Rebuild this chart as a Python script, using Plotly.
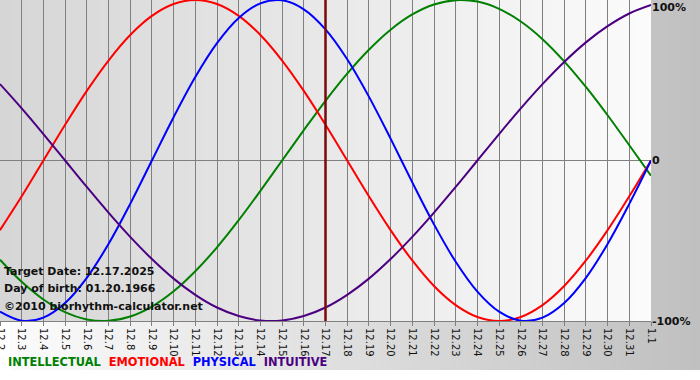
import plotly.graph_objects as go

# ---------------- data ----------------
labels = ['12.2', '12.3', '12.4', '12.5', '12.6', '12.7', '12.8', '12.9', '12.10',
          '12.11', '12.12', '12.13', '12.14', '12.15', '12.16', '12.17', '12.18',
          '12.19', '12.20', '12.21', '12.22', '12.23', '12.24', '12.25', '12.26',
          '12.27', '12.28', '12.29', '12.30', '12.31', '1.1']

intellectual = [-0.618, -0.756, -0.866, -0.945, -0.990, -0.999, -0.972, -0.910, -0.815, -0.690,
                -0.541, -0.372, -0.189, 0.000, 0.189, 0.372, 0.541, 0.690, 0.815, 0.910,
                0.972, 0.999, 0.990, 0.945, 0.866, 0.756, 0.618, 0.458, 0.282, 0.095, -0.095]
emotional = [-0.434, -0.223, 0.000, 0.223, 0.434, 0.623, 0.782, 0.901, 0.975, 1.000,
             0.975, 0.901, 0.782, 0.623, 0.434, 0.223, 0.000, -0.223, -0.434, -0.623,
             -0.782, -0.901, -0.975, -1.000, -0.975, -0.901, -0.782, -0.623, -0.434, -0.223, 0.000]
physical = [-0.942, -0.998, -0.979, -0.888, -0.731, -0.520, -0.270, 0.000, 0.270, 0.520,
            0.731, 0.888, 0.979, 0.998, 0.942, 0.817, 0.631, 0.398, 0.136, -0.136,
            -0.398, -0.631, -0.817, -0.942, -0.998, -0.979, -0.888, -0.731, -0.520, -0.270, 0.000]
intuitive = [0.476, 0.325, 0.165, 0.000, -0.165, -0.325, -0.476, -0.614, -0.736, -0.837,
             -0.916, -0.969, -0.997, -0.997, -0.969, -0.916, -0.837, -0.736, -0.614, -0.476,
             -0.325, -0.165, 0.000, 0.165, 0.325, 0.476, 0.614, 0.736, 0.837, 0.916, 0.969]

y_tickvals = [-1, 0, 1]
y_ticktext = ['-100%', '0', '100%']

target_label = '12.17'
info_lines = ['Target Date: 12.17.2025', 'Day of birth: 01.20.1966',
              '\u00a92010 biorhythm-calculator.net']

series = [('INTELLECTUAL', intellectual, '#008000'),
          ('EMOTIONAL', emotional, '#ff0000'),
          ('PHYSICAL', physical, '#0000ff'),
          ('INTUITIVE', intuitive, '#4b0082')]

# ---------------- layout geometry (pixels) ----------------
W, H = 700, 380
ML, MR, MT, MB = 0, 49, 0, 59
PW, PH = W - ML - MR, H - MT - MB
BOTTOM_PANEL = 370  # pixel row where the grey backdrop ends

xs = list(range(len(labels)))

fig = go.Figure()
for name, vals, col in series:
    fig.add_trace(go.Scatter(x=xs, y=vals, mode='lines', name=name,
                             line=dict(color=col, width=2, shape='spline', smoothing=1.0),
                             showlegend=False, hoverinfo='skip'))

fig.add_vline(x=labels.index(target_label), line=dict(color='#7a0a0a', width=2))


def lerp(c0, c1, t):
    return tuple(round(a + (b - a) * t) for a, b in zip(c0, c1))


shapes = []
# outer backdrop gradient (white -> grey, left to right)
n_out = 70
for i in range(n_out):
    t = i / (n_out - 1)
    c = lerp((252, 252, 252), (192, 192, 192), t)
    px0 = W * i / n_out
    px1 = W * (i + 1) / n_out + 0.5
    shapes.append(dict(type='rect', xref='paper', yref='paper', layer='below',
                       x0=(px0 - ML) / PW, x1=(px1 - ML) / PW,
                       y0=(MT + PH - BOTTOM_PANEL) / PH, y1=1 + MT / PH,
                       line=dict(width=0), fillcolor='rgb(%d,%d,%d)' % c))
# plot area gradient (grey -> near white)
n_in = 93
for i in range(n_in):
    t = i / (n_in - 1)
    c = lerp((214, 214, 214), (251, 251, 251), t)
    shapes.append(dict(type='rect', xref='paper', yref='paper', layer='below',
                       x0=i / n_in, x1=min(1, (i + 1) / n_in + 0.001),
                       y0=0, y1=1,
                       line=dict(width=0), fillcolor='rgb(%d,%d,%d)' % c))

annotations = []
for k, txt in enumerate(info_lines):
    py = [271, 288, 306][k]
    annotations.append(dict(xref='paper', yref='paper', x=2 / PW, y=(PH - py) / PH,
                            xanchor='left', yanchor='middle', showarrow=False,
                            text='<b>%s</b>' % txt,
                            font=dict(family='DejaVu Sans', size=11, color='#111111')))

legend_html = '&nbsp;&nbsp;'.join('<span style="color:%s">%s</span>' % (c, n) for n, _, c in series)
annotations.append(dict(xref='paper', yref='paper', x=6 / PW, y=(PH - 362) / PH,
                        xanchor='left', yanchor='middle', showarrow=False,
                        text='<b>%s</b>' % legend_html,
                        font=dict(family='DejaVu Sans', size=11.4)))

ytext = ['<b>%s</b>' % t for t in y_ticktext]
ytext[-1] = '<br>' + ytext[-1]  # keep the top label inside the canvas

fig.update_layout(
    width=W, height=H,
    margin=dict(l=ML, r=MR, t=MT, b=MB, pad=0, autoexpand=False),
    paper_bgcolor='white', plot_bgcolor='rgba(0,0,0,0)',
    shapes=shapes + list(fig.layout.shapes), annotations=annotations,
    showlegend=False,
    xaxis=dict(range=[0, len(labels) - 1], tickmode='array', tickvals=xs, ticktext=labels,
               tickangle=90, ticks='outside', ticklen=4, tickcolor='#808080',
               ticklabeloverflow='allow',
               showgrid=True, gridcolor='#808080', gridwidth=1,
               showline=True, linecolor='#808080', linewidth=1,
               zeroline=False, tickfont=dict(family='DejaVu Sans', size=10, color='#111111'),
               fixedrange=True),
    yaxis=dict(range=[-1.0, 1.0], side='right', tickmode='array',
               tickvals=y_tickvals, ticktext=ytext,
               showgrid=True, gridcolor='#808080', gridwidth=1,
               zeroline=False, showline=False, ticks='',
               tickfont=dict(family='DejaVu Sans', size=11, color='#111111'),
               fixedrange=True),
)

fig.write_html('out.html', config={'displayModeBar': False},
               post_script="document.body.style.margin='0';document.body.style.padding='0';"
                           "document.body.style.overflow='hidden';")
